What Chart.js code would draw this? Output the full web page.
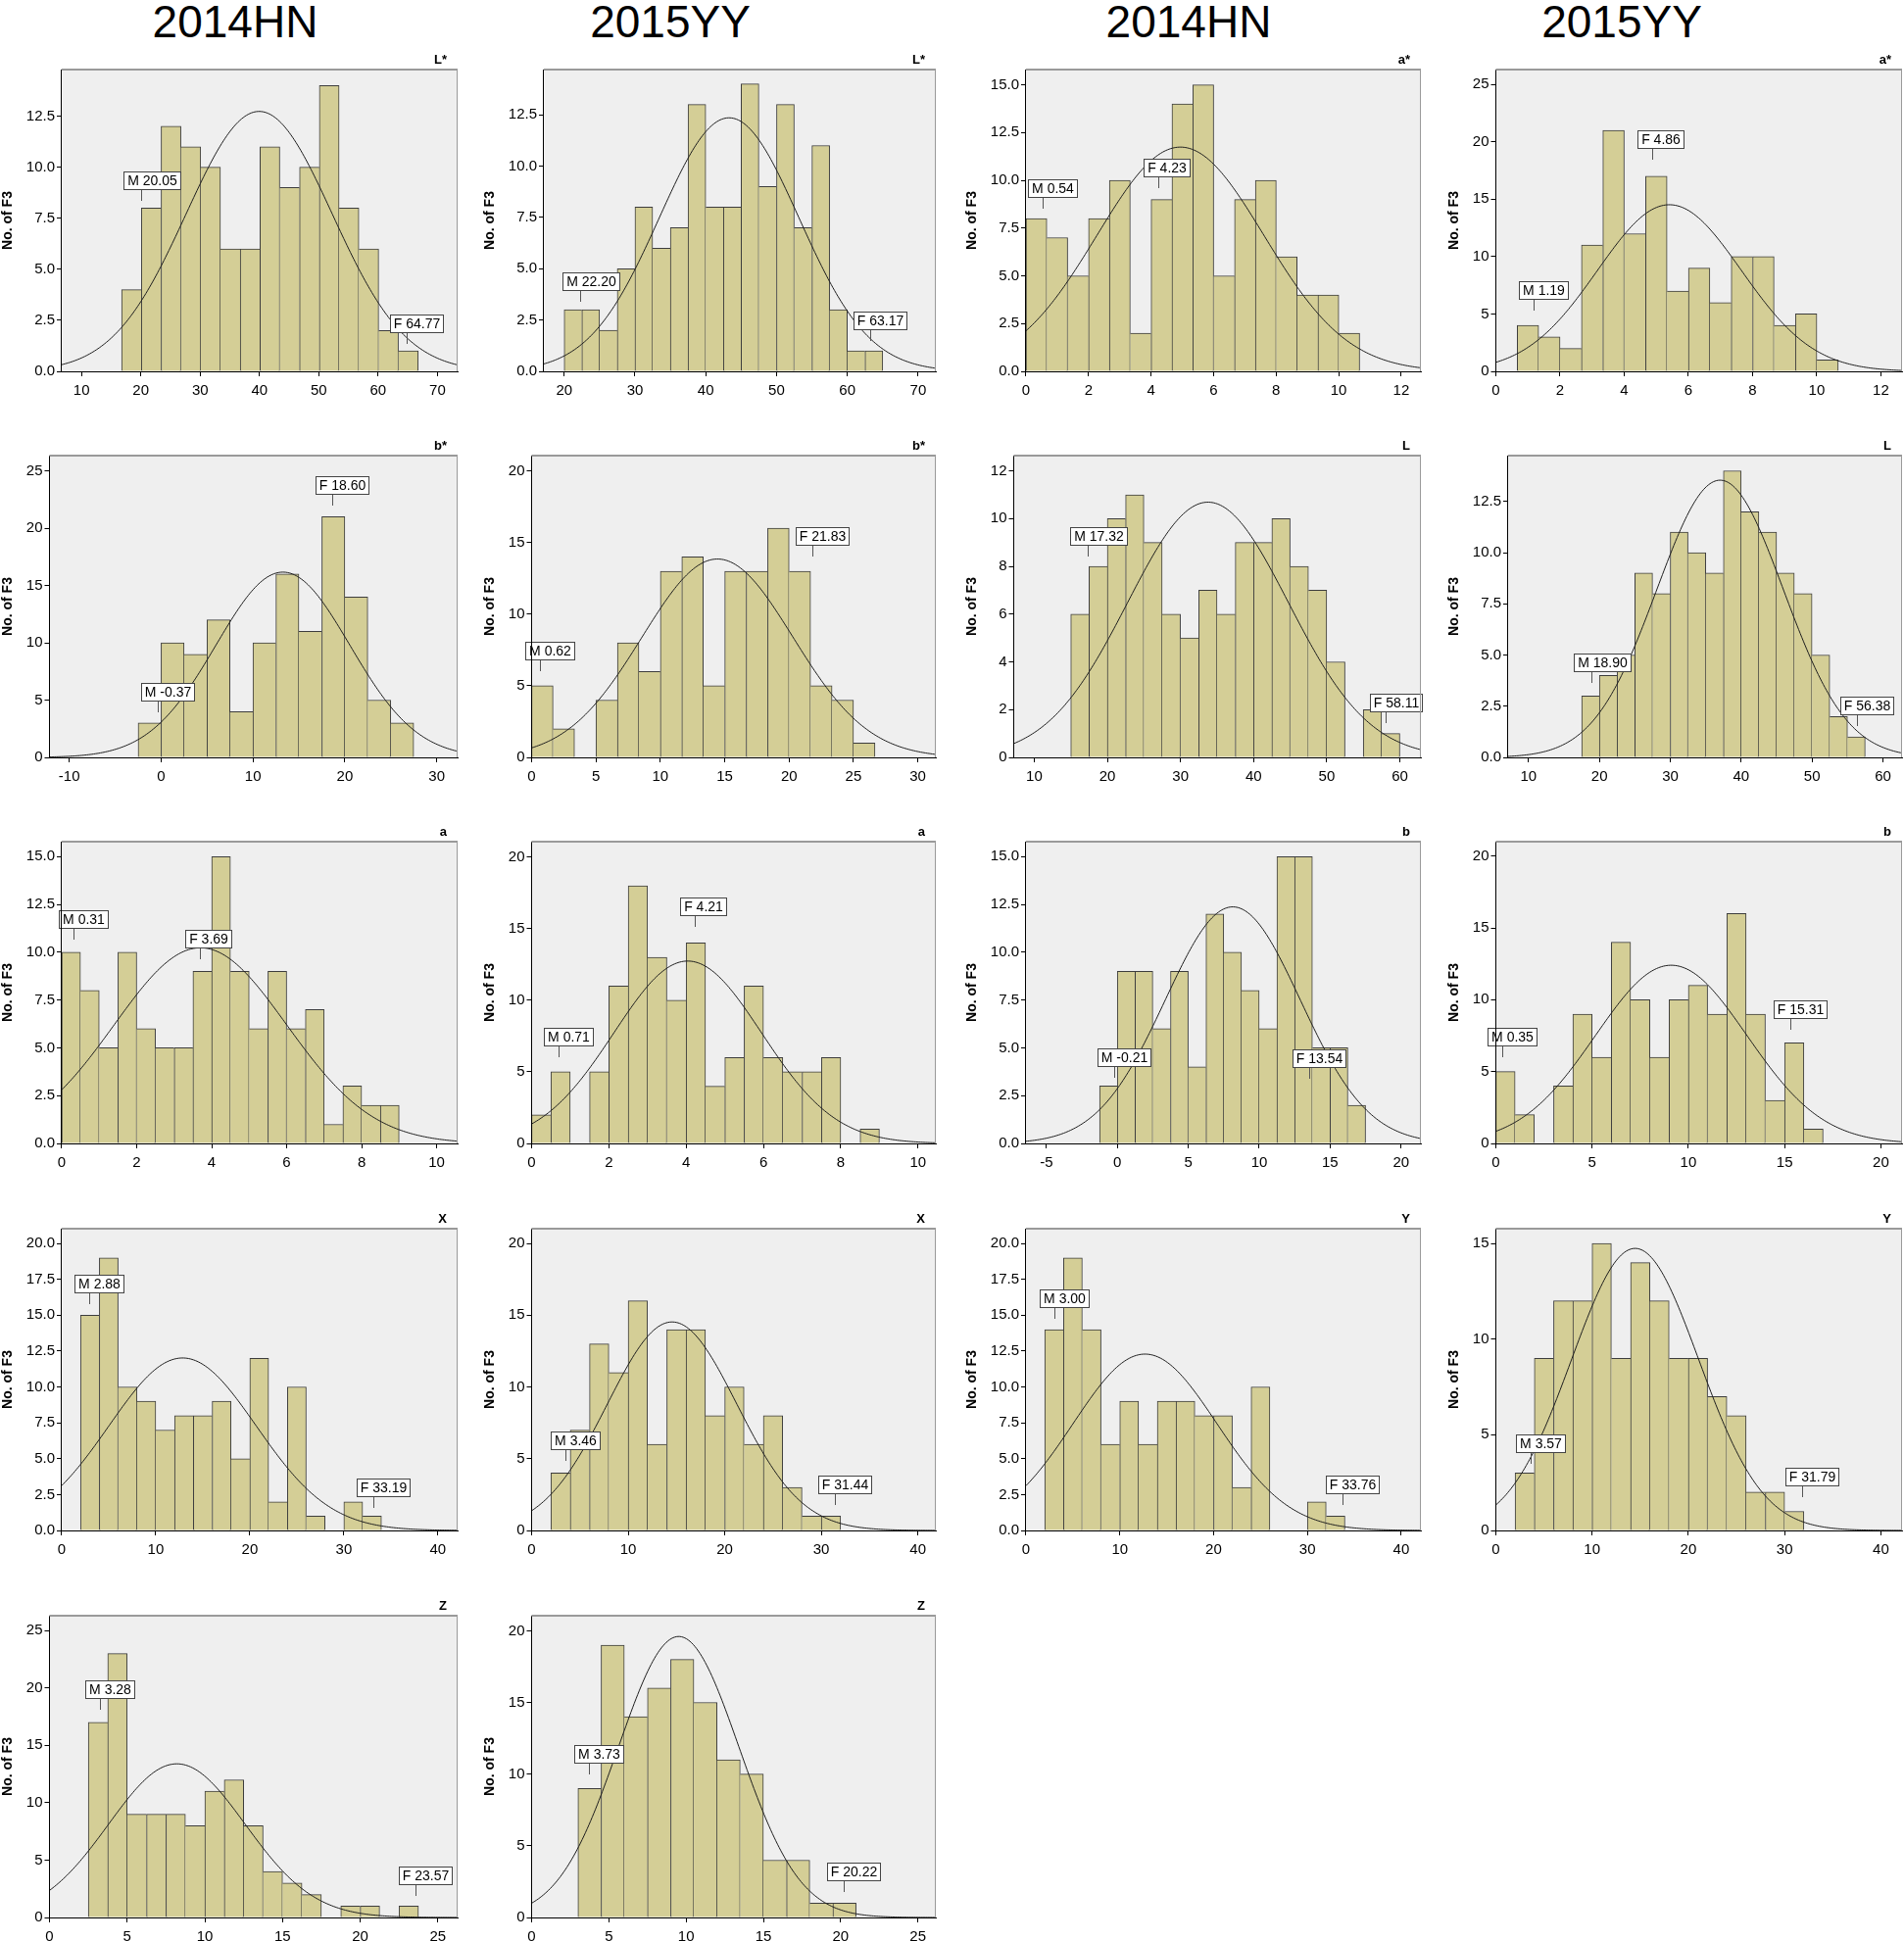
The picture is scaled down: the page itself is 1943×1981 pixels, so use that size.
<!DOCTYPE html>
<html>
<head>
<meta charset="utf-8">
<title>F3 histograms</title>
<script src="https://cdn.jsdelivr.net/npm/chart.js@4.4.0/dist/chart.umd.min.js"></script>
<style>
  html, body { margin: 0; padding: 0; background: #fff; }
  #page { position: relative; width: 1943px; height: 1981px; overflow: hidden; }
  .group-title { position: absolute; top: -1px; font: 46px/46px 'Liberation Sans', Arial, sans-serif; color: #000; transform: translateX(-50%); white-space: nowrap; }
  canvas { position: absolute; }
</style>
</head>
<body>
<div id="page"></div>
<script>
'use strict';

// ── Data (panels in reading order, 4 per row) ──────────────────
const groupTitles = ['2014HN', '2015YY', '2014HN', '2015YY'];
const panelNames  = ['L*', 'L*', 'a*', 'a*', 'b*', 'b*', 'L', 'L', 'a', 'a', 'b', 'b', 'X', 'X', 'Y', 'Y', 'Z', 'Z'];

const binStart = [16.76, 20, 0, 0.667, -2.5, 0, 15, 17.5, 0, 0, -1.25, 0, 2, 2, 2, 2, 2.5, 3];
const binWidth = [3.333, 2.5, 0.667, 0.667, 2.5, 1.667, 2.5, 2.5, 0.5, 0.5, 1.25, 1, 2, 2, 2, 2, 1.25, 1.5];
const binCounts = [
  [4, 8, 12, 11, 10, 6, 6, 11, 9, 10, 14, 8, 6, 2, 1],
  [3, 3, 2, 5, 8, 6, 7, 13, 8, 8, 14, 9, 13, 7, 11, 3, 1, 1],
  [8, 7, 5, 8, 10, 2, 9, 14, 15, 5, 9, 10, 6, 4, 4, 2],
  [4, 3, 2, 11, 21, 12, 17, 7, 9, 6, 10, 10, 4, 5, 1],
  [3, 10, 9, 12, 4, 10, 16, 11, 21, 14, 5, 3],
  [5, 2, 0, 4, 8, 6, 13, 14, 5, 13, 13, 16, 13, 5, 4, 1],
  [6, 8, 10, 11, 9, 6, 5, 7, 6, 9, 9, 10, 8, 7, 4, 0, 2, 1],
  [3, 4, 5, 9, 8, 11, 10, 9, 14, 12, 11, 9, 8, 5, 2, 1],
  [10, 8, 5, 10, 6, 5, 5, 9, 15, 9, 6, 9, 6, 7, 1, 3, 2, 2],
  [2, 5, 0, 5, 11, 18, 13, 10, 14, 4, 6, 11, 6, 5, 5, 6, 0, 1],
  [3, 9, 9, 6, 9, 4, 12, 10, 8, 6, 15, 15, 5, 5, 2],
  [5, 2, 0, 4, 9, 6, 14, 10, 6, 10, 11, 9, 16, 9, 3, 7, 1],
  [15, 19, 10, 9, 7, 8, 8, 9, 5, 12, 2, 10, 1, 0, 2, 1],
  [4, 7, 13, 11, 16, 6, 14, 14, 8, 10, 6, 8, 3, 1, 1],
  [14, 19, 14, 6, 9, 6, 9, 9, 8, 8, 3, 10, 0, 0, 2, 1],
  [3, 9, 12, 12, 15, 9, 14, 12, 9, 9, 7, 6, 2, 2, 1],
  [17, 23, 9, 9, 9, 8, 11, 12, 8, 4, 3, 2, 0, 1, 1, 0, 1],
  [9, 19, 14, 16, 18, 15, 11, 10, 4, 4, 1, 1]
];

const xMin = [6.67, 17.13, 0, 0, -12.15, 0, 7.2, 7.12, 0, 0, -6.44, 0, 0, 0, 0, 0, 0, 0];
const xMax = [73.4, 72.5, 12.63, 12.66, 32.28, 31.4, 62.88, 62.7, 10.56, 10.46, 21.4, 21.1, 42.1, 41.86, 42.1, 42.2, 26.27, 26.16];
const yMax = [14.78, 14.7, 15.8, 26.3, 26.34, 21.07, 12.64, 14.74, 15.78, 21.08, 15.78, 21.0, 21.03, 21.03, 21.03, 15.77, 26.3, 21.05];

const xTickFirst = [10, 20, 0, 0, -10, 0, 10, 10, 0, 0, -5, 0, 0, 0, 0, 0, 0, 0];
const xTickLast  = [70, 70, 12, 12, 30, 30, 60, 60, 10, 10, 20, 20, 40, 40, 40, 40, 25, 25];
const xTickStep  = [10, 10, 2, 2, 10, 5, 10, 10, 2, 2, 5, 5, 10, 10, 10, 10, 5, 5];
const yTickStep  = [2.5, 2.5, 2.5, 5, 5, 5, 2, 2.5, 2.5, 5, 2.5, 5, 2.5, 5, 2.5, 5, 5, 5];
const yTickDecimals = [1, 1, 1, 0, 0, 0, 0, 1, 1, 0, 1, 0, 1, 0, 1, 0, 0, 0];

// normal curve: centre, spread, height
const curveMean = [39.95, 43.3, 4.94, 5.41, 13.26, 14.44, 33.77, 37.03, 3.7, 4.04, 8.14, 9.11, 12.85, 14.55, 12.69, 14.47, 8.2, 9.52];
const curveSd   = [12.3, 9.85, 2.67, 2.24, 7.28, 5.86, 11.0, 8.91, 2.3, 1.91, 4.76, 3.93, 7.83, 6.7, 7.66, 6.6, 4.4, 3.9];
const curvePeak = [12.73, 12.35, 11.74, 14.52, 16.17, 13.85, 10.69, 13.54, 10.23, 12.74, 12.37, 12.4, 12.02, 14.53, 12.29, 14.74, 13.39, 19.6];

// "M" and "F" callouts: value on x, bottom of leader line on y
const mValue  = [20.05, 22.20, 0.54, 1.19, -0.37, 0.62, 17.32, 18.90, 0.31, 0.71, -0.21, 0.35, 2.88, 3.46, 3.00, 3.57, 3.28, 3.73];
const mAnchor = [8.37, 3.37, 8.5, 5.27, 3.93, 6.04, 8.4, 3.64, 10.67, 6.03, 3.43, 6.0, 15.78, 4.83, 14.75, 3.5, 18.13, 10.0];
const fValue  = [64.77, 63.17, 4.23, 4.86, 18.60, 21.83, 58.11, 56.38, 3.69, 4.21, 13.54, 15.31, 33.19, 31.44, 33.76, 31.79, 23.57, 20.22];
const fAnchor = [1.36, 1.49, 9.57, 18.45, 21.98, 14.05, 1.43, 1.55, 9.63, 15.12, 3.37, 7.88, 1.57, 1.8, 1.76, 1.74, 1.92, 1.81];

// ── Layout ─────────────────────────────────────────────────────
const FONT = "'Liberation Sans', Arial, sans-serif";
const colLeft = [0, 492, 984, 1476];
const frameRight = [467, 955, 1450, 1941];
const titleCenter = [240, 684, 1213, 1655];
const rowFrameTop = [71, 465, 859, 1254, 1649];
const FRAME_H = 308, PAD_TOP = 30, XAXIS_H = 30, PAD_RIGHT = 2;

Chart.defaults.font.family = FONT;
Chart.defaults.color = '#000';

function range(a, b, step) {
  const out = [];
  for (let v = a; v <= b + 1e-9; v += step) out.push(Math.round(v * 1000) / 1000);
  return out;
}

function curvePoints(i) {
  const pts = [];
  const n = 240;
  for (let k = 0; k <= n; k++) {
    const x = xMin[i] + (xMax[i] - xMin[i]) * k / n;
    const z = (x - curveMean[i]) / curveSd[i];
    pts.push({ x, y: curvePeak[i] * Math.exp(-0.5 * z * z) });
  }
  return pts;
}

function drawCallout(chart, text, value, anchor) {
  const { ctx, scales: { x, y } } = chart;
  const px = Math.round(x.getPixelForValue(value)) + 0.5;
  const py = Math.round(y.getPixelForValue(anchor));
  ctx.save();
  ctx.font = '14px ' + FONT;
  const w = Math.round(ctx.measureText(text).width) + 7;
  const h = 18;
  const boxBottom = py - 12;
  const left = Math.round(px - 0.32 * w) + 0.5;
  const top = boxBottom - h + 0.5;
  ctx.strokeStyle = '#555';
  ctx.lineWidth = 1;
  ctx.beginPath();
  ctx.moveTo(px, py);
  ctx.lineTo(px, boxBottom);
  ctx.stroke();
  ctx.fillStyle = '#fff';
  ctx.fillRect(left, top, w, h);
  ctx.strokeStyle = '#444';
  ctx.strokeRect(left, top, w, h);
  ctx.fillStyle = '#000';
  ctx.textAlign = 'center';
  ctx.textBaseline = 'middle';
  ctx.fillText(text, left + w / 2, top + h / 2 + 1);
  ctx.restore();
}

const panelDecor = {
  id: 'panelDecor',
  beforeDraw(chart) {
    const { ctx, chartArea: a } = chart;
    ctx.save();
    ctx.fillStyle = '#efefef';
    ctx.fillRect(a.left, a.top, a.right - a.left, a.bottom - a.top);
    ctx.restore();
  },
  afterDatasetsDraw(chart) {
    const i = chart.options.plugins.panelDecor.index;
    drawCallout(chart, 'M ' + mValue[i].toFixed(2), mValue[i], mAnchor[i]);
    drawCallout(chart, 'F ' + fValue[i].toFixed(2), fValue[i], fAnchor[i]);
  },
  afterDraw(chart) {
    const i = chart.options.plugins.panelDecor.index;
    const { ctx, chartArea: a } = chart;
    ctx.save();
    ctx.strokeStyle = '#9a9a9a';
    ctx.lineWidth = 2;
    ctx.beginPath();
    ctx.moveTo(a.left, a.top);
    ctx.lineTo(a.right, a.top);
    ctx.stroke();
    ctx.lineWidth = 1;
    ctx.beginPath();
    ctx.moveTo(a.right - 0.5, a.top);
    ctx.lineTo(a.right - 0.5, a.bottom);
    ctx.stroke();
    ctx.fillStyle = '#000';
    ctx.font = 'bold 13px ' + FONT;
    ctx.textAlign = 'right';
    ctx.textBaseline = 'alphabetic';
    ctx.fillText(panelNames[i], a.right - 11, a.top - 6);
    ctx.restore();
  }
};

function buildPanel(i) {
  const r = Math.floor(i / 4), c = i % 4;
  const canvas = document.createElement('canvas');
  const w = frameRight[c] - colLeft[c] + PAD_RIGHT;
  const h = PAD_TOP + FRAME_H + XAXIS_H;
  canvas.width = w;
  canvas.height = h;
  canvas.style.width = w + 'px';
  canvas.style.height = h + 'px';
  canvas.style.left = colLeft[c] + 'px';
  canvas.style.top = (rowFrameTop[r] - PAD_TOP) + 'px';
  document.getElementById('page').appendChild(canvas);

  const counts = binCounts[i];
  const bars = counts.map((n, k) => ({ x: binStart[i] + (k + 0.5) * binWidth[i], y: n > 0 ? n : null }));

  new Chart(canvas.getContext('2d'), {
    type: 'bar',
    data: {
      datasets: [
        {
          type: 'line', data: curvePoints(i), borderColor: '#1e1e1e', borderWidth: 1,
          pointRadius: 0, tension: 0, fill: false, order: 0
        },
        {
          type: 'bar', data: bars, order: 1,
          backgroundColor: '#d4ce96', borderColor: '#3d3d3d', borderSkipped: false,
          barPercentage: 1, categoryPercentage: 1,
          borderWidth: ctx => {
            const k = ctx.dataIndex, cur = counts[k] || 0;
            const prev = counts[k - 1] || 0, next = counts[k + 1] || 0;
            return { top: 1, bottom: 0, left: prev > cur ? 0 : 1, right: next < cur ? 1 : 0 };
          }
        }
      ]
    },
    options: {
      responsive: false,
      animation: false,
      devicePixelRatio: 1,
      layout: { padding: { top: PAD_TOP, right: PAD_RIGHT, bottom: 0, left: 0 } },
      plugins: {
        legend: { display: false },
        tooltip: { enabled: false },
        panelDecor: { index: i }
      },
      scales: {
        x: {
          type: 'linear', min: xMin[i], max: xMax[i], offset: false,
          afterBuildTicks: s => { s.ticks = range(xTickFirst[i], xTickLast[i], xTickStep[i]).map(v => ({ value: v })); },
          afterFit: s => { s.height = XAXIS_H; },
          ticks: { color: '#000', font: { size: 15 }, padding: 6, autoSkip: false, maxRotation: 0, callback: v => String(v) },
          grid: { drawOnChartArea: false, drawTicks: true, tickLength: 5, color: '#000', offset: false },
          border: { display: true, color: '#000', width: 1, z: 1 }
        },
        y: {
          type: 'linear', min: 0, max: yMax[i],
          afterBuildTicks: s => { s.ticks = range(0, yMax[i], yTickStep[i]).map(v => ({ value: v })); },
          ticks: { color: '#000', font: { size: 15 }, padding: 2, autoSkip: false, callback: v => Number(v).toFixed(yTickDecimals[i]) },
          grid: { drawOnChartArea: false, drawTicks: true, tickLength: 5, color: '#000' },
          border: { display: true, color: '#000', width: 1, z: 1 },
          title: { display: true, text: 'No. of F3', color: '#000', font: { size: 14, weight: 'bold' }, padding: { top: 0, bottom: 8 } }
        }
      }
    },
    plugins: [panelDecor]
  });
}

groupTitles.forEach((t, c) => {
  const d = document.createElement('div');
  d.className = 'group-title';
  d.style.left = titleCenter[c] + 'px';
  d.textContent = t;
  document.getElementById('page').appendChild(d);
});

panelNames.forEach((_, i) => buildPanel(i));
</script>
</body>
</html>
